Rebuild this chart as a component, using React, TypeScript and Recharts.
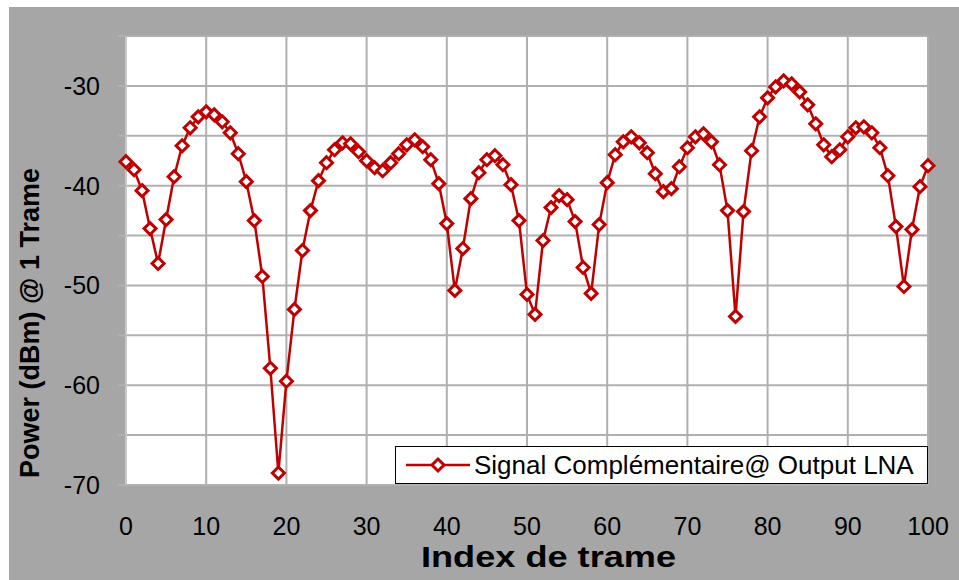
import React from 'react';
import { LineChart, Line, XAxis, YAxis, CartesianGrid, Legend } from 'recharts';

const frameIndex: number[] = Array.from({ length: 101 }, (_, i) => i);
const powerDbm: number[] = [
  -37.6, -38.4, -40.5, -44.3, -47.8, -43.4, -39.1, -36.0, -34.2, -33.1,
  -32.6, -32.9, -33.6, -34.7, -36.8, -39.6, -43.5, -49.1, -58.3, -68.8,
  -59.6, -52.4, -46.5, -42.5, -39.5, -37.7, -36.4, -35.7, -35.8, -36.6,
  -37.5, -38.2, -38.5, -37.7, -36.8, -35.9, -35.4, -36.1, -37.4, -39.8,
  -43.8, -50.5, -46.3, -41.3, -38.7, -37.4, -37.0, -37.9, -39.9, -43.5,
  -50.9, -52.9, -45.5, -42.2, -41.0, -41.4, -43.6, -48.2, -50.8, -43.9,
  -39.7, -36.9, -35.6, -35.1, -35.7, -36.7, -38.8, -40.6, -40.3, -38.1,
  -36.2, -35.1, -34.8, -35.6, -37.9, -42.5, -53.1, -42.6, -36.5, -33.1,
  -31.2, -30.1, -29.5, -29.8, -30.6, -31.9, -33.8, -35.9, -37.1, -36.4,
  -35.1, -34.2, -34.1, -34.7, -36.2, -39.0, -44.1, -50.1, -44.4, -40.1,
  -38.0,
];
const xTicks: number[] = [0, 10, 20, 30, 40, 50, 60, 70, 80, 90, 100];
const yTicks: number[] = [-70, -65, -60, -55, -50, -45, -40, -35, -30, -25];
const seriesName = 'Signal Complémentaire@ Output LNA';
const xTitle = 'Index de trame';
const yTitle = 'Power (dBm) @ 1 Trame';

const data = frameIndex.map((x, i) => ({ x, y: powerDbm[i] }));

const RED = '#c00000';
const GRID = '#b0b0b0';
const FONT = '"Liberation Sans", Arial, sans-serif';

const Diamond = (props: any) => {
  const { cx, cy, index } = props;
  if (cx == null || cy == null) return <g key={`d${index}`} />;
  const r = 6;
  return (
    <path
      key={`d${index}`}
      d={`M${cx},${cy - r} L${cx + r},${cy} L${cx},${cy + r} L${cx - r},${cy} Z`}
      fill="#fff"
      stroke={RED}
      strokeWidth={3}
    />
  );
};

const LegendBox = () => (
  <div
    style={{
      boxSizing: 'border-box',
      width: 533,
      height: 38,
      border: '1px solid #000',
      background: '#fff',
      display: 'flex',
      alignItems: 'center',
      fontFamily: FONT,
      fontSize: 26,
      color: '#000',
      whiteSpace: 'nowrap',
    }}
  >
    <svg width={70} height={24} style={{ marginLeft: 8 }}>
      <line x1={2} y1={12} x2={66} y2={12} stroke={RED} strokeWidth={2.5} />
      <path d="M34,6 L40,12 L34,18 L28,12 Z" fill="#fff" stroke={RED} strokeWidth={3} />
    </svg>
    <span>{seriesName}</span>
  </div>
);

export default function App() {
  return (
    <div
      style={{
        position: 'absolute',
        left: 9,
        top: 7,
        width: 950,
        height: 573,
        background: '#a6a6a6',
      }}
    >
      <LineChart
        width={950}
        height={573}
        data={data}
        margin={{ top: 29, right: 31, bottom: 35, left: 17 }}
      >
        <CartesianGrid stroke={GRID} strokeWidth={2} fill="#fff" />
        <XAxis
          dataKey="x"
          type="number"
          domain={[0, 100]}
          ticks={xTicks}
          height={60}
          tickLine={false}
          tickSize={6}
          tickMargin={26}
          axisLine={{ stroke: GRID, strokeWidth: 2 }}
          tick={{ fill: '#000', fontSize: 25, fontFamily: FONT }}
          interval={0}
          label={{
            content: () => (
              <text
                x={412}
                y={560}
                textAnchor="start"
                textLength={255}
                lengthAdjust="spacingAndGlyphs"
                fontFamily={FONT}
                fontWeight="bold"
                fontSize={29}
                fill="#000"
              >
                {xTitle}
              </text>
            ),
          }}
        />
        <YAxis
          type="number"
          domain={[-70, -25]}
          ticks={yTicks}
          width={100}
          tickSize={8}
          tickMargin={18}
          interval={0}
          tickLine={{ stroke: GRID, strokeWidth: 2 }}
          axisLine={{ stroke: '#c8c8c8', strokeWidth: 2 }}
          tick={{ fill: '#000', fontSize: 25, fontFamily: FONT }}
          tickFormatter={(v: number) => (v % 10 === 0 ? String(v) : '')}
          label={{
            content: () => (
              <text
                x={21}
                y={316}
                textAnchor="middle"
                dominantBaseline="central"
                transform="rotate(-90, 21, 316)"
                fontFamily={FONT}
                fontWeight="bold"
                fontSize={27}
                fill="#000"
              >
                {yTitle}
              </text>
            ),
          }}
        />
        <Legend
          layout="vertical"
          align="center"
          verticalAlign="middle"
          wrapperStyle={{ left: 386, top: 439, width: 533, height: 38 }}
          content={() => <LegendBox />}
        />
        <Line
          type="linear"
          dataKey="y"
          name={seriesName}
          stroke={RED}
          strokeWidth={2.5}
          dot={Diamond}
          activeDot={false}
          isAnimationActive={false}
        />
      </LineChart>
    </div>
  );
}
